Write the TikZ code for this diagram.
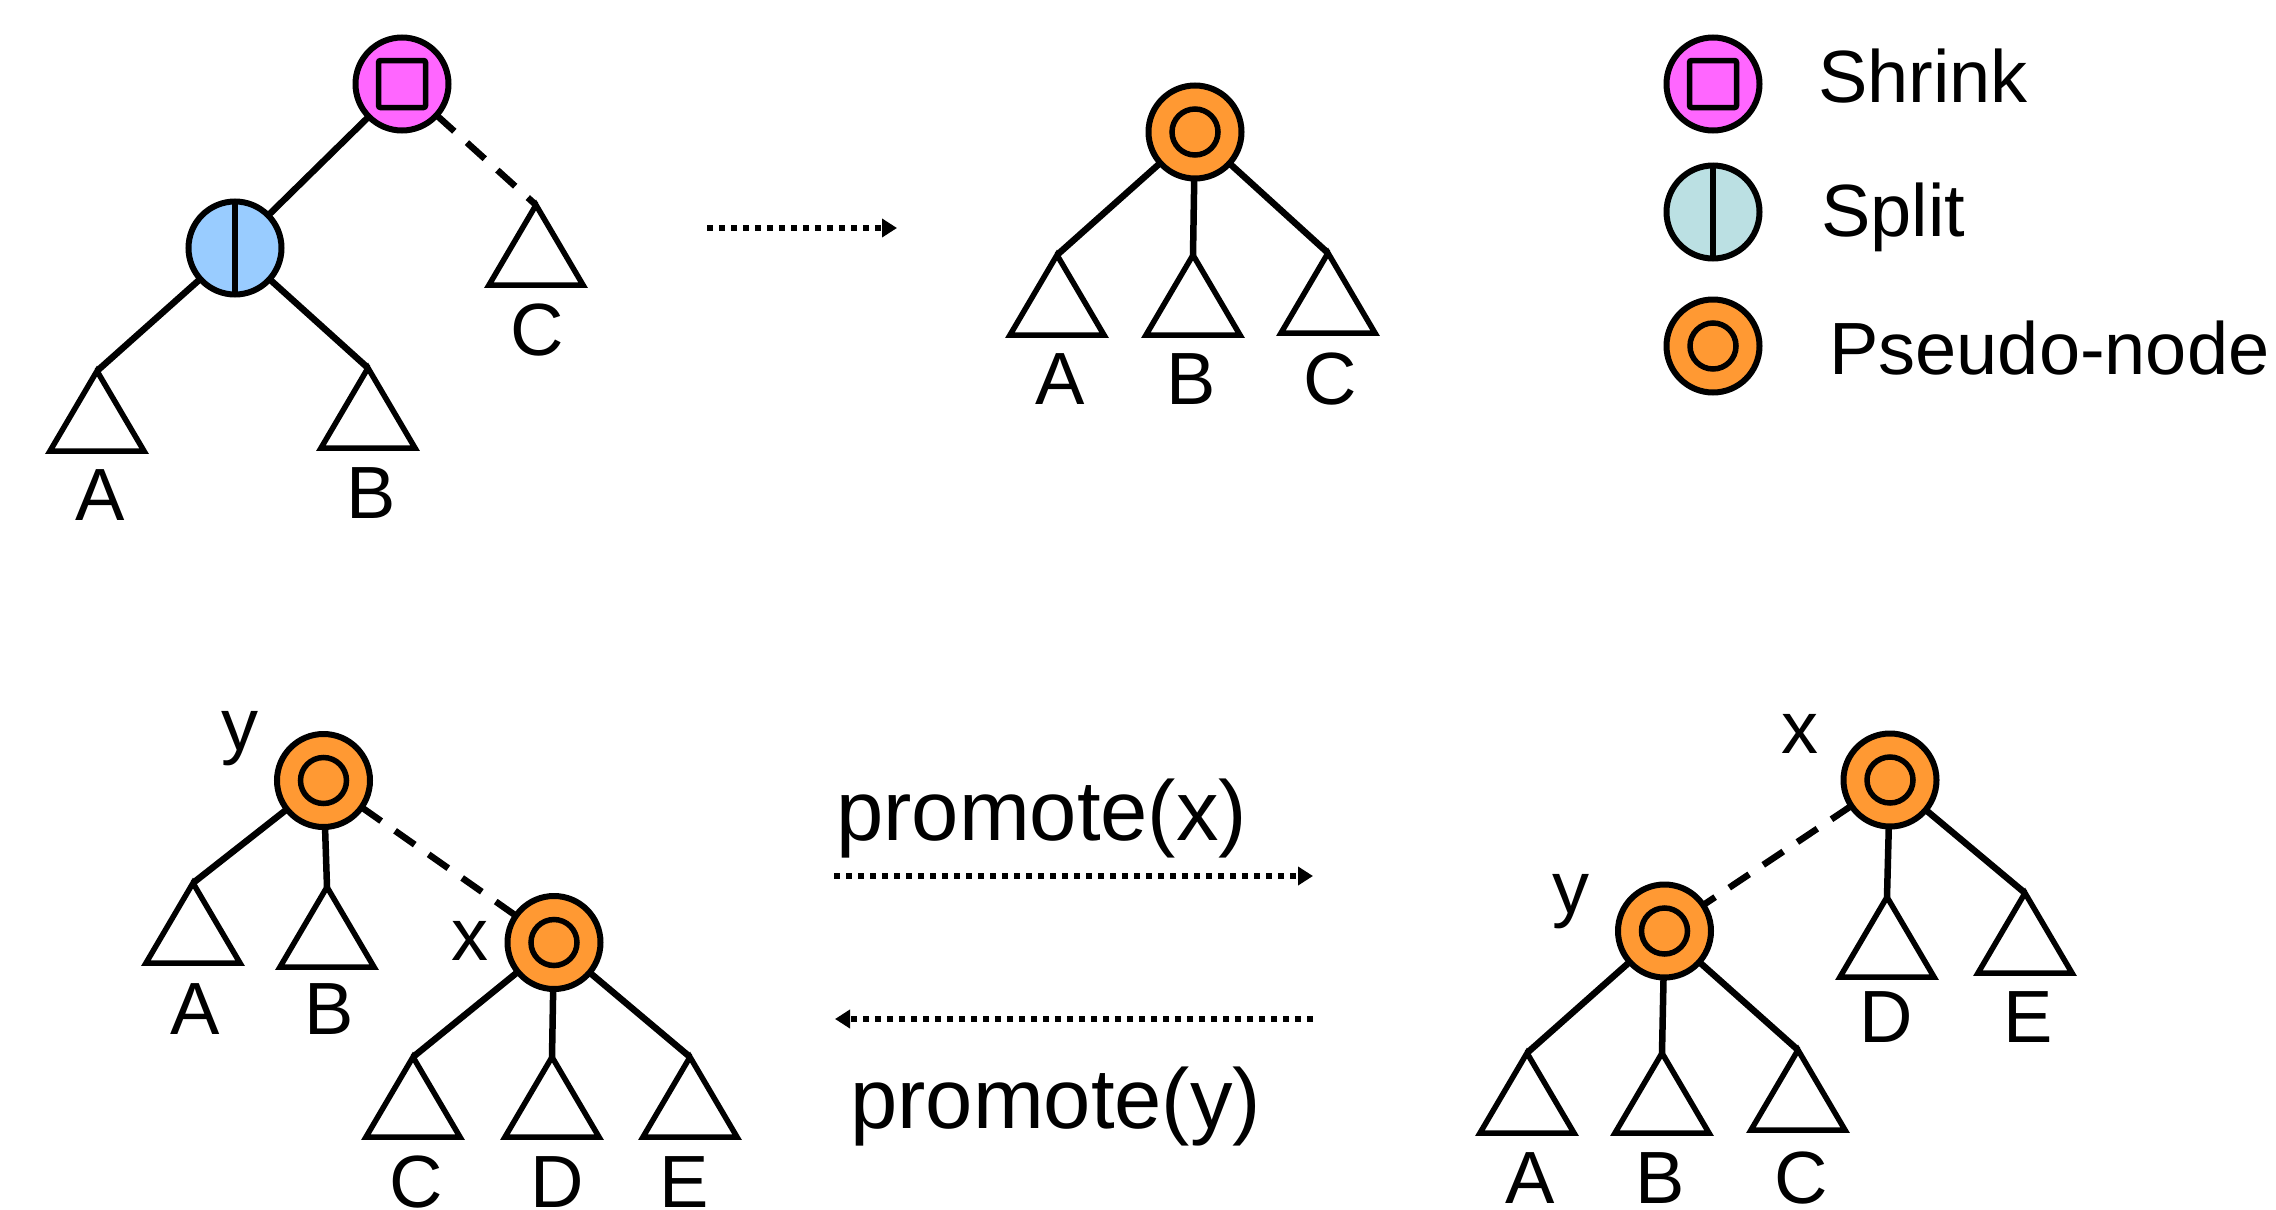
\documentclass[tikz,border=0pt]{standalone}
\usepackage{fontspec}
\setmainfont{Liberation Sans}
\usetikzlibrary{arrows.meta}

\definecolor{shrinkpink}{HTML}{FF66FF}
\definecolor{splitblue}{HTML}{99CCFF}
\definecolor{splitteal}{HTML}{BBE0E3}
\definecolor{pseudoorange}{HTML}{FF9933}

\tikzset{
  treenode/.style={circle, draw, line width=6pt, minimum size=93pt, inner sep=0pt, outer sep=0pt},
  pseudo/.style={treenode, fill=pseudoorange,
    path picture={\draw[line width=5.5pt] (path picture bounding box.center) circle (23pt);}},
  shrinknode/.style={treenode, fill=shrinkpink,
    path picture={\draw[line width=5.5pt, rounded corners=2pt]
      ([xshift=-23.5pt,yshift=-23.5pt]path picture bounding box.center) rectangle
      ([xshift=23.5pt,yshift=23.5pt]path picture bounding box.center);}},
  splitnode/.style={treenode, fill=#1,
    path picture={\draw[line width=5.5pt] (path picture bounding box.north) -- (path picture bounding box.south);}},
  splitnode/.default=splitblue,
  edge/.style={line width=6.5pt},
  weak/.style={line width=6.5pt, dash pattern=on 24pt off 17pt},
  move/.style={line width=5.5pt, dash pattern=on 6pt off 6pt, -{Triangle[length=15pt,width=18pt]}},
  lbl/.style={inner sep=0pt, anchor=base, font=\fontsize{74}{80}\selectfont},
  legendtext/.style={inner sep=0pt, anchor=base west, font=\fontsize{74}{80}\selectfont},
  optext/.style={inner sep=0pt, anchor=base west, font=\fontsize{85}{90}\selectfont},
  subtree/.pic={\draw[line width=5.5pt] (0,0) -- (-47,80) -- (47,80) -- cycle;}
}

\begin{document}
\begin{tikzpicture}[x=1pt, y=-1pt]
\useasboundingbox (0,0) rectangle (2276,1210);

% ---------- shrink / split tree ----------
\node[shrinknode] (s1) at (402,84) {};
\node[splitnode] (p1) at (235,248) {};
\coordinate (s1A) at (97,371);
\coordinate (s1B) at (368,368);
\coordinate (s1C) at (536,205);
\draw[edge] (s1) -- (p1);
\draw[edge] (p1) -- (s1A);
\draw[edge] (p1) -- (s1B);
\draw[weak] (s1) -- (s1C);
\pic at (s1A) {subtree};
\pic at (s1B) {subtree};
\pic at (s1C) {subtree};
\node[lbl] (s1Al) at (100,520) {A};
\node[lbl] (s1Bl) at (371,518) {B};
\node[lbl] (s1Cl) at (537,355) {C};

% transformation arrow
\coordinate (m1s) at (707,228);
\coordinate (m1e) at (897,228);
\draw[move] (m1s) -- (m1e);

% ---------- resulting pseudo-node ----------
\node[pseudo] (r1) at (1195,132) {};
\coordinate (r1A) at (1057,255);
\coordinate (r1B) at (1193,255);
\coordinate (r1C) at (1328,253);
\draw[edge] (r1) -- (r1A);
\draw[edge] (r1) -- (r1B);
\draw[edge] (r1) -- (r1C);
\pic at (r1A) {subtree};
\pic at (r1B) {subtree};
\pic at (r1C) {subtree};
\node[lbl] (r1Al) at (1060,404) {A};
\node[lbl] (r1Bl) at (1191,404) {B};
\node[lbl] (r1Cl) at (1330,404) {C};

% ---------- legend ----------
\node[shrinknode] (kS) at (1713,84) {};
\node[splitnode=splitteal] (kP) at (1713,212) {};
\node[pseudo] (kO) at (1713,346) {};
\node[legendtext] (kSt) at (1818,102) {Shrink};
\node[legendtext] (kPt) at (1821,236) {Split};
\node[legendtext] (kOt) at (1829,374) {Pseudo-node};

% ---------- y above x ----------
\node[pseudo] (ly) at (323.5,780.5) {};
\node[pseudo] (lx) at (554,942.5) {};
\node[lbl] (lyl) at (239.5,750) {y};
\node[lbl] (lxl) at (470,960) {x};
\coordinate (lA) at (193,883);
\coordinate (lB) at (327,887);
\coordinate (lC) at (413,1057);
\coordinate (lD) at (552,1057);
\coordinate (lE) at (690,1057);
\draw[edge] (ly) -- (lA);
\draw[edge] (ly) -- (lB);
\draw[weak] (ly) -- (lx);
\draw[edge] (lx) -- (lC);
\draw[edge] (lx) -- (lD);
\draw[edge] (lx) -- (lE);
\pic at (lA) {subtree};
\pic at (lB) {subtree};
\pic at (lC) {subtree};
\pic at (lD) {subtree};
\pic at (lE) {subtree};
\node[lbl] (lAl) at (195,1034) {A};
\node[lbl] (lBl) at (329,1034) {B};
\node[lbl] (lCl) at (416,1207) {C};
\node[lbl] (lDl) at (557,1207) {D};
\node[lbl] (lEl) at (684,1207) {E};

% ---------- promote arrows ----------
\coordinate (px1) at (834,876);
\coordinate (px2) at (1313,876);
\coordinate (py1) at (1313,1019);
\coordinate (py2) at (835,1019);
\draw[move] (px1) -- (px2);
\draw[move] (py1) -- (py2);
\node[optext] (pxt) at (836,840) {promote(x)};
\node[optext] (pyt) at (850,1128) {promote(y)};

% ---------- x above y ----------
\node[pseudo] (rx) at (1890,780) {};
\node[pseudo] (ry) at (1664.5,931) {};
\node[lbl] (rxl) at (1800,753) {x};
\node[lbl] (ryl) at (1571,913) {y};
\coordinate (rA) at (1527,1053);
\coordinate (rB) at (1662,1053);
\coordinate (rC) at (1798,1050);
\coordinate (rD) at (1887,897);
\coordinate (rE) at (2025,893);
\draw[weak] (rx) -- (ry);
\draw[edge] (rx) -- (rD);
\draw[edge] (rx) -- (rE);
\draw[edge] (ry) -- (rA);
\draw[edge] (ry) -- (rB);
\draw[edge] (ry) -- (rC);
\pic at (rA) {subtree};
\pic at (rB) {subtree};
\pic at (rC) {subtree};
\pic at (rD) {subtree};
\pic at (rE) {subtree};
\node[lbl] (rAl) at (1530,1203) {A};
\node[lbl] (rBl) at (1660,1203) {B};
\node[lbl] (rCl) at (1801,1203) {C};
\node[lbl] (rDl) at (1886,1042) {D};
\node[lbl] (rEl) at (2028,1042) {E};
\end{tikzpicture}
\end{document}
